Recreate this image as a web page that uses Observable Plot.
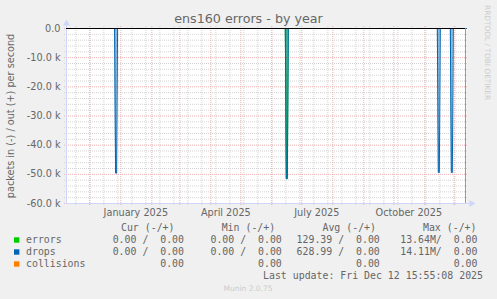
<!DOCTYPE html>
<html><head><meta charset="utf-8">
<script src="https://cdn.jsdelivr.net/npm/d3@7"></script>
<script src="https://cdn.jsdelivr.net/npm/@observablehq/plot@0.6"></script>
<style>
html,body{margin:0;padding:0;background:#f0f0f0;}
#chart svg{display:block;}
</style></head><body><div id="chart"></div>
<script>
// ---- data ----
const startTime = "2024-11-07T15:55:08Z";
const endTime = "2025-12-12T15:55:08Z";

const errorsDates = ["2024-11-07T15:55:08Z","2025-06-14T12:00:00Z","2025-06-15T12:00:00Z","2025-06-16T12:00:00Z","2025-06-17T12:00:00Z","2025-12-12T15:55:08Z"];
const errorsValues = [0, 0, -51500, -51500, 0, 0];

const dropsDates = ["2024-11-07T15:55:08Z",
  "2024-12-25T18:00:00Z","2024-12-26T18:00:00Z","2024-12-27T18:00:00Z","2024-12-28T18:00:00Z",
  "2025-06-14T12:00:00Z","2025-06-15T12:00:00Z","2025-06-16T12:00:00Z","2025-06-17T12:00:00Z",
  "2025-11-13T12:00:00Z","2025-11-14T12:00:00Z","2025-11-15T12:00:00Z","2025-11-16T12:00:00Z",
  "2025-11-26T12:00:00Z","2025-11-27T12:00:00Z","2025-11-28T12:00:00Z","2025-11-29T12:00:00Z",
  "2025-12-12T15:55:08Z"];
const dropsValues = [0,
  0, -49600, -49600, 0,
  0, -51500, -51500, 0,
  0, -49400, -49400, 0,
  0, -49400, -49400, 0,
  0];

const collisionsDates = ["2024-11-07T15:55:08Z","2025-12-12T15:55:08Z"];
const collisionsValues = [0, 0];

const yTickValues = [0, -10000, -20000, -30000, -40000, -50000, -60000];
const yTickLabels = ["0.0", "-10.0 k", "-20.0 k", "-30.0 k", "-40.0 k", "-50.0 k", "-60.0 k"];
const xLabelDates = ["2025-01-16T00:00:00Z", "2025-04-16T00:00:00Z", "2025-07-16T00:00:00Z", "2025-10-16T00:00:00Z"];
const xLabelTexts = ["January 2025", "April 2025", "July 2025", "October 2025"];

const legendNames = ["errors", "drops", "collisions"];
const legendColors = ["#00cc00", "#0066b3", "#ff8000"];
const curTexts = ["0.00 /  0.00", "0.00 /  0.00", "0.00"];
const minTexts = ["0.00 /  0.00", "0.00 /  0.00", "0.00"];
const avgTexts = ["129.39 /  0.00", "628.99 /  0.00", "0.00"];
const maxTexts = ["13.64M/  0.00", "14.11M/  0.00", "0.00"];
const headerTexts = ["Cur (-/+)", "Min (-/+)", "Avg (-/+)", "Max (-/+)"];

const titleText = "ens160 errors - by year";
const yTitle = "packets in (-) / out (+) per second";
const lastUpdate = "Last update: Fri Dec 12 15:55:08 2025";
const munin = "Munin 2.0.75";
const watermark = "RRDTOOL / TOBI OETIKER";

// ---- build ----
const start = new Date(startTime), end = new Date(endTime);
const toRows = (ds, vs) => ds.map((d, i) => ({date: new Date(d), value: vs[i]}));
const errors = toRows(errorsDates, errorsValues);
const drops = toRows(dropsDates, dropsValues);
const collisions = toRows(collisionsDates, collisionsValues);

const yLabelMap = new Map(yTickValues.map((v, i) => [v, yTickLabels[i]]));
const xLabelMap = new Map(xLabelDates.map((d, i) => [+new Date(d), xLabelTexts[i]]));

const minorY = d3.range(-60000, 1, 2000).filter(v => v % 10000 !== 0);
const minorX = d3.range(0, 40).map(i => new Date(Date.UTC(2024, 10, 17) + i * 14 * 864e5)).filter(d => d < end);
const majorX = d3.utcMonths(start, end);

const AXIS = "#CFD6F8";
const GRIDC = "#d4d4d4";
const MGRIDC = "#eab0b0";
const FONT = "#666666";

const chart = Plot.plot({
  width: 497, height: 299,
  marginLeft: 66, marginRight: 31, marginTop: 28, marginBottom: 96,
  style: {background: "#f0f0f0", fontFamily: "DejaVu Sans", fontSize: "9.7px", color: FONT, overflow: "visible"},
  x: {type: "utc", domain: [start, end], axis: null, label: null},
  y: {domain: [-60000, 0], axis: null, label: null},
  marks: [
    Plot.frame({fill: "#ffffff", stroke: null}),
    Plot.ruleY(minorY, {stroke: GRIDC, strokeDasharray: "1,1", insetLeft: -2, insetRight: -2}),
    Plot.ruleX(minorX, {stroke: GRIDC, strokeDasharray: "1,1", insetTop: -2, insetBottom: -2}),
    Plot.ruleY(yTickValues, {stroke: MGRIDC, strokeDasharray: "1,1", insetLeft: -2, insetRight: -2}),
    Plot.ruleX(majorX, {stroke: MGRIDC, strokeDasharray: "1,1", insetTop: -2, insetBottom: -2}),
    // axes lines + arrows
    Plot.ruleY([-60000], {stroke: AXIS, insetRight: -5}),
    Plot.ruleX([start], {stroke: AXIS, insetTop: -5}),
    Plot.dot([start], {x: d => d, y: () => 0, symbol: "triangle", r: 2.6, fill: AXIS, stroke: null, dy: -5}),
    Plot.dot([end], {x: d => d, y: () => -60000, symbol: "triangle", r: 2.6, fill: AXIS, stroke: null, rotate: 90, dx: 5}),
    // data
    Plot.areaY(errors, {x: "date", y: "value", fill: legendColors[0], fillOpacity: 0.5}),
    Plot.areaY(drops, {x: "date", y: "value", fill: legendColors[1], fillOpacity: 0.45}),
    Plot.line(collisions, {x: "date", y: "value", stroke: legendColors[2], strokeWidth: 1}),
    Plot.line(errors, {x: "date", y: "value", stroke: legendColors[0], strokeWidth: 1}),
    Plot.line(drops, {x: "date", y: "value", stroke: legendColors[1], strokeWidth: 1}),
    Plot.ruleY([0], {stroke: "#000000"}),
    Plot.ruleX([end], {stroke: "#999999", dx: -1}),
    // tick labels
    Plot.axisY(yTickValues, {tickSize: 0, tickPadding: 6, tickFormat: d => yLabelMap.get(d), fill: FONT, fontSize: 9.7, label: null}),
    Plot.axisX(xLabelDates.map(d => new Date(d)), {tickSize: 0, tickPadding: 6, tickFormat: d => xLabelMap.get(+d), fill: FONT, fontSize: 9.7, label: null})
  ]
});
document.getElementById("chart").appendChild(chart);

// ---- texts: title, y title, legend ----
const svg = d3.select(chart);
const g = svg.append("g").attr("fill", FONT).attr("font-family", "DejaVu Sans").attr("text-anchor", "start");
g.append("text").attr("x", 248.5).attr("y", 23.3).attr("text-anchor", "middle").attr("font-size", 12.7).text(titleText);
g.append("text").attr("transform", "translate(13.5,116) rotate(-90)").attr("text-anchor", "middle").attr("font-size", 9.7).text(yTitle);
g.append("text").attr("transform", "translate(485,5) rotate(90)").attr("text-anchor", "start").attr("font-size", 7.4).attr("fill", "#cccccc").text(watermark);
g.append("text").attr("x", 248).attr("y", 291).attr("text-anchor", "middle").attr("font-size", 7.5).attr("fill", "#cccccc").text(munin);

const mono = svg.append("g").attr("fill", FONT).attr("font-family", "DejaVu Sans Mono").attr("font-size", 9.9)
  .attr("text-anchor", "start").attr("xml:space", "preserve").style("white-space", "pre");
const headerEnds = [174.5, 275.2, 376, 476.5];
headerTexts.forEach((t, i) => mono.append("text").attr("x", headerEnds[i]).attr("y", 230.5).attr("text-anchor", "end").text(t));
const colEnds = [184, 281.8, 379.8, 477.5];
const cols = [curTexts, minTexts, avgTexts, maxTexts];
legendNames.forEach((n, r) => {
  const y = 242.5 + r * 12;
  mono.append("rect").attr("x", 14).attr("y", y - 5.2).attr("width", 5.4).attr("height", 5.4).attr("fill", legendColors[r]);
  mono.append("text").attr("x", 26).attr("y", y).attr("text-anchor", "start").text(n);
  cols.forEach((c, j) => mono.append("text").attr("x", colEnds[j]).attr("y", y).attr("text-anchor", "end").text(c[r]));
});
mono.append("text").attr("x", 483).attr("y", 278.5).attr("text-anchor", "end").text(lastUpdate);
</script>
</body></html>
